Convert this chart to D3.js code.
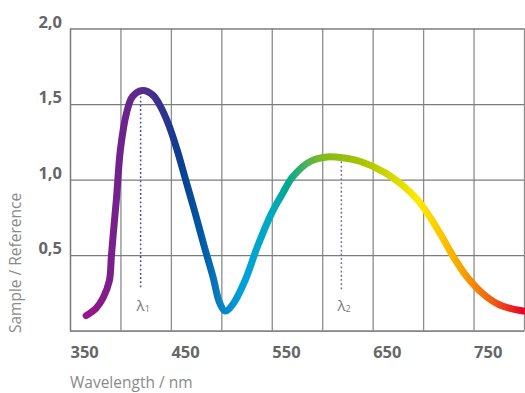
<!DOCTYPE html>
<html>
<head>
<meta charset="utf-8">
<script src="https://cdn.jsdelivr.net/npm/d3@7"></script>
<style>
  body { margin: 0; background: #fff; }
  text { font-family: "Open Sans", sans-serif; }
</style>
</head>
<body>
<svg id="chart" width="525" height="393"></svg>
<script>
// wavelength (nm) and ratio
var wavelengths = [366, 376, 383, 389, 391, 393, 396, 400, 406, 412, 422, 432, 440, 448, 456, 465, 474, 483, 492, 498, 504,
  512, 524, 536, 550, 560, 571, 588, 605, 620, 638, 661, 680, 694, 705, 718, 730, 743, 760, 776, 799];
var ratios = [0.10, 0.15, 0.22, 0.33, 0.49, 0.65, 0.87, 1.20, 1.44, 1.55, 1.59, 1.56, 1.48, 1.36, 1.20, 0.99, 0.78, 0.56, 0.35, 0.19, 0.13,
  0.18, 0.34, 0.56, 0.78, 0.90, 1.02, 1.12, 1.15, 1.145, 1.12, 1.05, 0.96, 0.87, 0.77, 0.63, 0.49, 0.36, 0.24, 0.17, 0.13];

var gridX = [350, 400, 450, 500, 550, 600, 650, 700, 750, 800];
var xLabels = [350, 450, 550, 650, 750];
var yTicks = [0, 0.5, 1.0, 1.5, 2.0];
var yLabels = [0.5, 1.0, 1.5, 2.0];

// spectrum colours along the line
var colorNm = [366, 390, 420, 445, 460, 480, 500, 520, 550, 565, 582, 600, 640, 670, 695, 720, 740, 770, 800];
var colorHex = ["#9c1488", "#7a1f8c", "#5a2a8c", "#2a3590", "#0a3f90", "#0058a2", "#0a82c6", "#00a0dc", "#00aac0", "#00a890",
  "#45b060", "#80bb1e", "#a8c400", "#d6da00", "#ffea00", "#fbc400", "#f5a000", "#ee5a14", "#e6002a"];

var lambdas = [{ nm: 420, top: 1.55, bottom: 0.28, sub: "1", color: "#3c4fa8" },
               { nm: 619, top: 1.12, bottom: 0.27, sub: "2", color: "#6a6ca6" }];

var data = wavelengths.map((w, i) => ({ w: w, r: ratios[i] }));

var plotLeft = 70, plotRight = 524, plotTop = 28.5, plotBottom = 330.7;

var svg = d3.select("#chart");

var x = d3.scaleLinear().domain([350, 800]).range([plotLeft, plotRight]);
var y = d3.scaleLinear().domain([0, 2]).range([plotBottom, plotTop]);

var comma = d3.formatLocale({ decimal: ",", thousands: ".", grouping: [3], currency: ["", ""] }).format(".1f");

// grid lines
svg.append("g")
  .attr("transform", "translate(0," + plotBottom + ")")
  .call(d3.axisBottom(x).tickValues(gridX).tickSize(-(plotBottom - plotTop)).tickSizeOuter(0).tickFormat(""))
  .call(g => g.selectAll("line, path").attr("stroke", "#8c8c8c").attr("stroke-width", 1.3));

svg.append("g")
  .attr("transform", "translate(" + plotLeft + ",0)")
  .call(d3.axisLeft(y).tickValues(yTicks).tickSize(-(plotRight - plotLeft)).tickSizeOuter(0).tickFormat(""))
  .call(g => g.selectAll("line, path").attr("stroke", "#7c7c7c").attr("stroke-width", 1.3));

// tick labels
svg.append("g")
  .attr("transform", "translate(0," + plotBottom + ")")
  .call(d3.axisBottom(x).tickValues(xLabels).tickSize(0).tickFormat(d3.format("d")))
  .call(g => g.select(".domain").remove())
  .call(g => g.selectAll("text")
    .attr("y", 27).attr("dy", null)
    .attr("text-anchor", "start")
    .attr("fill", "#666")
    .style("font-size", "16.5px")
    .style("font-weight", "bold"));

svg.append("g")
  .attr("transform", "translate(" + plotLeft + ",0)")
  .call(d3.axisLeft(y).tickValues(yLabels).tickSize(0).tickPadding(8).tickFormat(comma))
  .call(g => g.select(".domain").remove())
  .call(g => g.selectAll("text")
    .attr("y", -1.5).attr("dy", null)
    .attr("fill", "#666")
    .style("font-size", "16.5px")
    .style("font-weight", "bold"));

// axis titles
svg.append("text")
  .attr("x", plotLeft)
  .attr("y", 388)
  .attr("fill", "#8a8a8a")
  .style("font-size", "15.5px")
  .text("Wavelength / nm");

svg.append("text")
  .attr("transform", "translate(21,333) rotate(-90)")
  .attr("fill", "#8a8a8a")
  .style("font-size", "15.5px")
  .text("Sample / Reference");

// dotted markers
lambdas.forEach(l => {
  svg.append("line")
    .attr("x1", x(l.nm)).attr("x2", x(l.nm))
    .attr("y1", y(l.top)).attr("y2", y(l.bottom))
    .attr("stroke", l.color)
    .attr("stroke-width", 1.5)
    .attr("stroke-dasharray", "1.8,2.4");

  var t = svg.append("text")
    .attr("x", x(l.nm) - 4)
    .attr("y", 311)
    .attr("fill", "#7a7a7a")
    .style("font-size", "15px")
    .text("λ");
  t.append("tspan")
    .attr("dy", 1)
    .style("font-size", "9px")
    .text(l.sub);
});

// gradient along the wavelength axis
var grad = svg.append("defs").append("linearGradient")
  .attr("id", "spectrum")
  .attr("gradientUnits", "userSpaceOnUse")
  .attr("x1", x(colorNm[0])).attr("x2", x(colorNm[colorNm.length - 1]))
  .attr("y1", 0).attr("y2", 0);

grad.selectAll("stop")
  .data(colorNm)
  .join("stop")
  .attr("offset", d => (d - colorNm[0]) / (colorNm[colorNm.length - 1] - colorNm[0]))
  .attr("stop-color", (d, i) => colorHex[i]);

var line = d3.line()
  .x(d => x(d.w))
  .y(d => y(d.r))
  .curve(d3.curveCatmullRom.alpha(0.5));

svg.append("path")
  .datum(data)
  .attr("d", line)
  .attr("fill", "none")
  .attr("stroke", "url(#spectrum)")
  .attr("stroke-width", 7)
  .attr("stroke-linecap", "round")
  .attr("stroke-linejoin", "round");
</script>
</body>
</html>
